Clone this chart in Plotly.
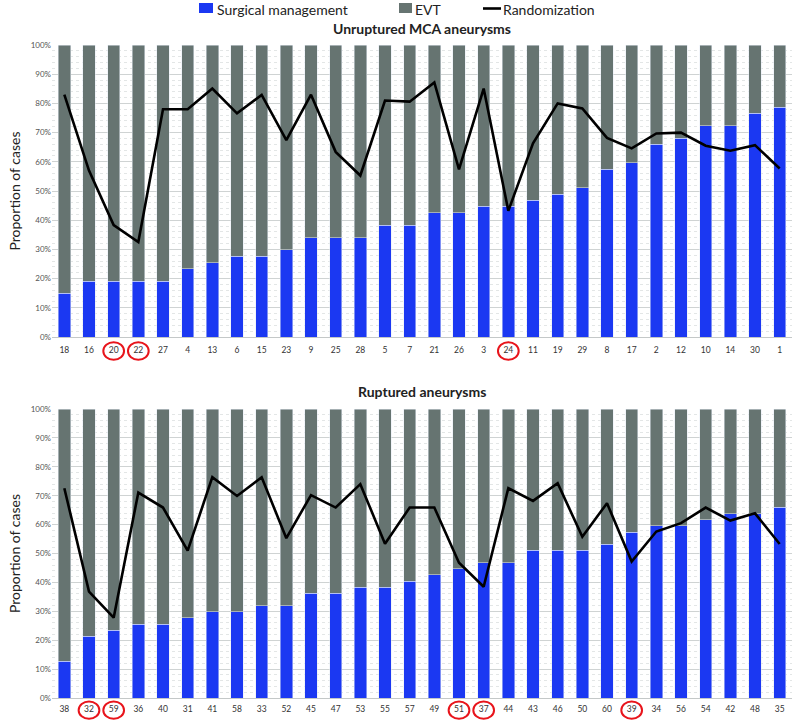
import plotly.graph_objects as go

# ---- Data: Unruptured MCA aneurysms ----
unr_cases = ["18", "16", "20", "22", "27", "4", "13", "6", "15", "23", "9", "25", "28", "5",
             "7", "21", "26", "3", "24", "11", "19", "29", "8", "17", "2", "12", "10", "14", "30", "1"]
unr_surgical = [0.149, 0.191, 0.191, 0.191, 0.191, 0.234, 0.255, 0.277, 0.277, 0.298, 0.340, 0.340, 0.340, 0.383,
                0.383, 0.426, 0.426, 0.447, 0.447, 0.468, 0.489, 0.511, 0.574, 0.596, 0.660, 0.681, 0.723, 0.723, 0.766, 0.787]
unr_random = [0.83, 0.57, 0.383, 0.325, 0.78, 0.78, 0.851, 0.766, 0.829, 0.674, 0.83, 0.634, 0.553, 0.81,
              0.806, 0.872, 0.574, 0.851, 0.432, 0.663, 0.80, 0.783, 0.682, 0.646, 0.697, 0.70, 0.655, 0.638, 0.657, 0.577]
unr_highlight = ["20", "22", "24"]

# ---- Data: Ruptured aneurysms ----
rup_cases = ["38", "32", "59", "36", "40", "31", "41", "58", "33", "52", "45", "47", "53", "55",
             "57", "49", "51", "37", "44", "43", "46", "50", "60", "39", "34", "56", "54", "42", "48", "35"]
rup_surgical = [0.128, 0.213, 0.234, 0.255, 0.255, 0.277, 0.298, 0.298, 0.319, 0.319, 0.362, 0.362, 0.383, 0.383,
                0.404, 0.426, 0.447, 0.468, 0.468, 0.511, 0.511, 0.511, 0.532, 0.574, 0.596, 0.596, 0.617, 0.638, 0.638, 0.660]
rup_random = [0.726, 0.368, 0.278, 0.711, 0.659, 0.510, 0.764, 0.699, 0.764, 0.553, 0.702, 0.659, 0.740, 0.534,
              0.659, 0.659, 0.468, 0.385, 0.726, 0.682, 0.743, 0.558, 0.674, 0.472, 0.576, 0.605, 0.659, 0.614, 0.639, 0.533]
rup_highlight = ["32", "59", "51", "37", "39"]

series_names = ["Surgical management", "EVT", "Randomization"]

BLUE = "#1b38f2"
GREY = "#667471"
FONT = "Lato"
W, H = 794.0, 723.0
L, R = 52.0, 2.0

def px_x(px):
    return (px - L) / (W - L - R)

def px_y(py):
    return 1 - py / H

fig = go.Figure()

def add_panel(cases, surg, rand, xa, ya):
    evt = [1 - s for s in surg]
    fig.add_trace(go.Bar(x=cases, y=surg, name=series_names[0], marker_color=BLUE,
                         xaxis=xa, yaxis=ya, showlegend=False))
    fig.add_trace(go.Bar(x=cases, y=evt, name=series_names[1], marker_color=GREY,
                         xaxis=xa, yaxis=ya, showlegend=False))
    fig.add_trace(go.Scatter(x=cases, y=rand, name=series_names[2], mode="lines",
                             line=dict(color="black", width=2.6),
                             xaxis=xa, yaxis=ya, showlegend=False))

add_panel(unr_cases, unr_surgical, unr_random, "x", "y")
add_panel(rup_cases, rup_surgical, rup_random, "x2", "y2")

top_dom = [px_y(337), px_y(45)]
bot_dom = [px_y(698), px_y(409)]

yax = dict(range=[0, 1], dtick=0.1, tickformat=".0%", showgrid=True,
           gridcolor="#cfd3d3", gridwidth=1, zeroline=False,
           tickfont=dict(family=FONT, size=8, color="#555555"),
           minor=dict(dtick=0.02, showgrid=True, gridcolor="#e3e6e6", griddash="dot"),
           title=dict(text="Proportion of cases", font=dict(family=FONT, size=14, color="#222222"), standoff=6),
           automargin=False, fixedrange=True)
xax = dict(type="category", showline=True, linecolor="#c4c8c8", linewidth=1, ticks="",
           tickfont=dict(family=FONT, size=8.5, color="#333333"), automargin=False,
           domain=[0, 1])

fig.update_layout(
    width=W, height=H,
    margin=dict(l=L, r=R, t=0, b=0),
    paper_bgcolor="white", plot_bgcolor="white",
    barmode="stack", bargap=0.5,
    font=dict(family=FONT),
    xaxis=dict(**xax, ticklabelstandoff=5),
    xaxis2=dict(**xax, anchor="y2", ticklabelstandoff=3),
    yaxis=dict(**yax, domain=top_dom, anchor="x"),
    yaxis2=dict(**yax, domain=bot_dom, anchor="x2"),
    showlegend=False,
)

# ---- manual legend ----
leg_font = dict(family=FONT, size=14, color="#222222")
ly = 10
sy = 8
fig.add_shape(type="rect", xref="paper", yref="paper", x0=px_x(199), x1=px_x(213),
              y0=px_y(sy + 5), y1=px_y(sy - 5), fillcolor=BLUE, line=dict(width=0))
fig.add_annotation(text=series_names[0], xref="paper", yref="paper", x=px_x(215), y=px_y(ly),
                   xanchor="left", yanchor="middle", showarrow=False, font=leg_font)
fig.add_shape(type="rect", xref="paper", yref="paper", x0=px_x(399), x1=px_x(412),
              y0=px_y(sy + 5), y1=px_y(sy - 5), fillcolor=GREY, line=dict(width=0))
fig.add_annotation(text=series_names[1], xref="paper", yref="paper", x=px_x(413), y=px_y(ly),
                   xanchor="left", yanchor="middle", showarrow=False, font=leg_font)
fig.add_shape(type="line", xref="paper", yref="paper", x0=px_x(483), x1=px_x(501),
              y0=px_y(sy + 0.5), y1=px_y(sy + 0.5), line=dict(color="black", width=2.6))
fig.add_annotation(text=series_names[2], xref="paper", yref="paper", x=px_x(501), y=px_y(ly),
                   xanchor="left", yanchor="middle", showarrow=False, font=leg_font)

# ---- panel titles ----
fig.add_annotation(text="<b>Unruptured MCA aneurysms</b>", xref="paper", yref="paper",
                   x=0.5, y=px_y(29), yanchor="middle", showarrow=False,
                   font=dict(family=FONT, size=14, color="#222222"))
fig.add_annotation(text="<b>Ruptured aneurysms</b>", xref="paper", yref="paper",
                   x=0.5, y=px_y(391), yanchor="middle", showarrow=False,
                   font=dict(family=FONT, size=14, color="#222222"))

# ---- red circles around highlighted case labels ----
def circles(cases, hl, xref, yref, yc, hh):
    for c in hl:
        i = cases.index(c)
        fig.add_shape(type="circle", xref=xref, yref=yref,
                      x0=i - 0.42, x1=i + 0.42, y0=yc - hh, y1=yc + hh,
                      line=dict(color="#e8141b", width=2))

circles(unr_cases, unr_highlight, "x", "y domain", -0.048, 0.030)
circles(rup_cases, rup_highlight, "x2", "y2 domain", -0.042, 0.030)

fig.write_html("out.html", config={"displayModeBar": False},
               post_script="document.body.style.margin='0';document.body.style.padding='0';"
                           "document.documentElement.style.overflow='hidden';")
